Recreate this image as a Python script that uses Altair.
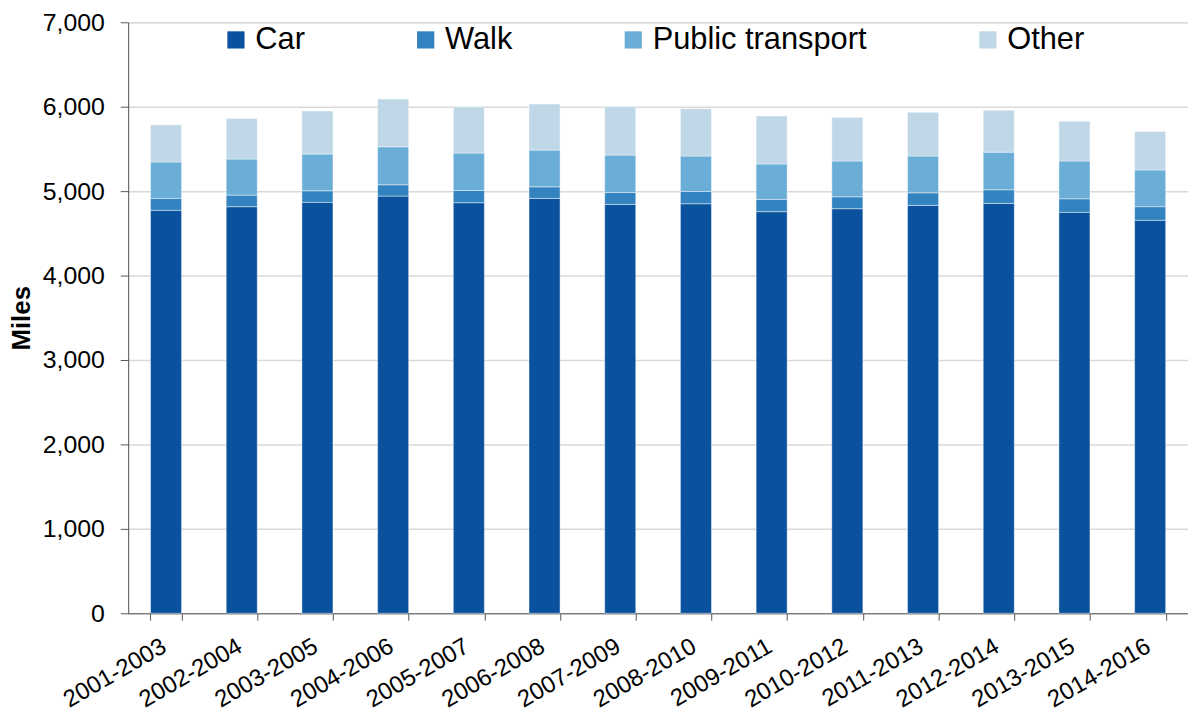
import altair as alt
import pandas as pd

periods = ["2001-2003", "2002-2004", "2003-2005", "2004-2006", "2005-2007",
           "2006-2008", "2007-2009", "2008-2010", "2009-2011", "2010-2012",
           "2011-2013", "2012-2014", "2013-2015", "2014-2016"]
car = [4773, 4816, 4867, 4941, 4863, 4914, 4843, 4851, 4757, 4792, 4831, 4855, 4749, 4655]
walk = [141, 137, 137, 134, 145, 137, 141, 145, 145, 141, 149, 161, 161, 161]
public_transport = [431, 427, 435, 450, 443, 435, 443, 420, 420, 424, 436, 446, 447, 435]
other = [440, 479, 510, 565, 545, 545, 573, 560, 568, 514, 517, 495, 470, 455]

modes = ["Car", "Walk", "Public transport", "Other"]
colors = ["#0a529e", "#3283bf", "#6aaed7", "#bfd7e7"]

rows = []
for i, p in enumerate(periods):
    for k, (m, vals) in enumerate(zip(modes, [car, walk, public_transport, other])):
        rows.append({"period": p, "mode": m, "miles": vals[i], "order": k})
df = pd.DataFrame(rows)

FONT = "Liberation Sans"

chart = alt.Chart(df).mark_bar(
    stroke="white", strokeWidth=0.6, strokeOpacity=0.7
).encode(
    x=alt.X("period:N", sort=periods, title=None,
            scale=alt.Scale(paddingInner=0.59, paddingOuter=0.295),
            axis=alt.Axis(labelAngle=-30, labelFontSize=24, labelColor="#000000",
                          labelFont=FONT, labelPadding=14, labelOffset=-8, tickSize=7,
                          tickBand="extent", tickColor="#595959",
                          domainColor="#595959", labelOverlap=False, grid=False)),
    y=alt.Y("miles:Q", stack="zero", title="Miles",
            scale=alt.Scale(domain=[0, 7000], nice=False),
            axis=alt.Axis(values=[0, 1000, 2000, 3000, 4000, 5000, 6000, 7000],
                          format=",d", labelFontSize=25, labelFont=FONT,
                          labelColor="#000000", labelPadding=16, tickSize=8,
                          tickColor="#595959", domainColor="#595959",
                          gridColor="#d9d9d9", gridWidth=1.5,
                          titleFontSize=26, titleFont=FONT, titleFontWeight="bold",
                          titleColor="#000000", titlePadding=8)),
    color=alt.Color("mode:N", sort=modes,
                    scale=alt.Scale(domain=modes, range=colors),
                    legend=alt.Legend(title=None, orient="none", legendX=93, legendY=2,
                                      direction="horizontal", columns=4,
                                      columnPadding=106, labelFontSize=31,
                                      labelFont=FONT, labelColor="#000000",
                                      labelOffset=4, labelLimit=400,
                                      symbolType="square",
                                      symbolSize=300, symbolStrokeWidth=0,
                                      padding=0)),
    order=alt.Order("order:Q", sort="ascending"),
).properties(
    width=1067, height=595,
    autosize=alt.AutoSizeParams(type="none"),
    padding={"left": 121, "top": 12, "right": 0, "bottom": 96},
).configure_view(stroke=None).configure(background="white")

chart.save("out.html", embed_options={"renderer": "svg", "actions": False})
